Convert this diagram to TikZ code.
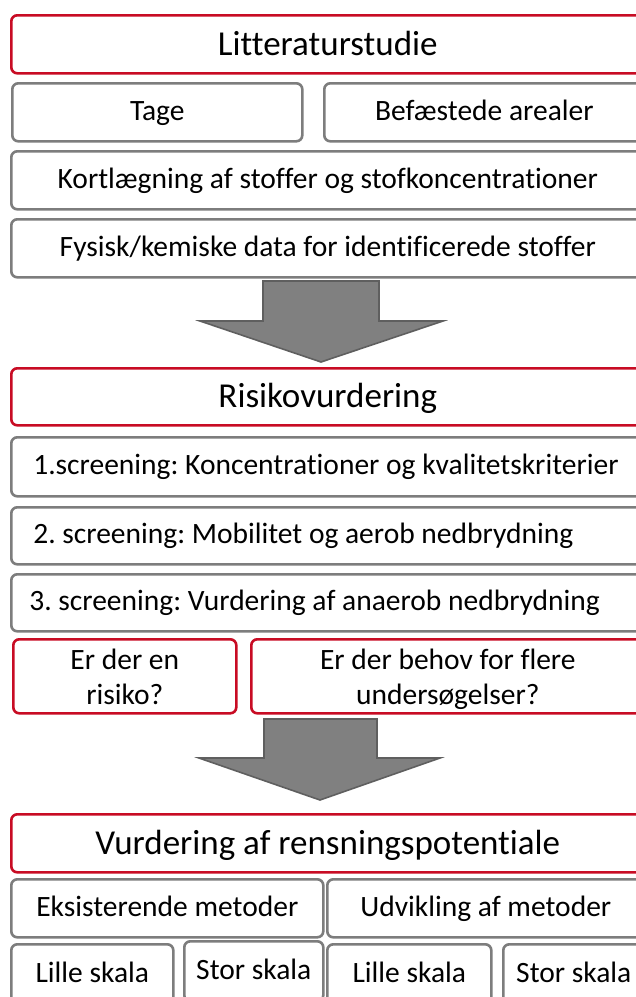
\documentclass[tikz,border=0pt]{standalone}
\usepackage{fontspec}
\setmainfont{Carlito}[Ligatures=CommonOff]
\frenchspacing
\definecolor{boxred}{RGB}{200,12,36}
\definecolor{boxgray}{RGB}{125,125,125}
\definecolor{arrowfill}{RGB}{128,128,128}
\definecolor{arrowline}{RGB}{95,95,95}
\begin{document}
\begin{tikzpicture}
[
    x=1pt, y=-1pt,
    box/.style={rectangle, rounded corners=6pt, line width=2.6pt, fill=white, anchor=north west, inner sep=2pt},
    redbox/.style={box, draw=boxred},
    graybox/.style={box, draw=boxgray},
    titletext/.style={font=\fontsize{35}{42}\selectfont, text height=24pt, text depth=2pt},
    bodytext/.style={font=\fontsize{29.5}{35}\selectfont, text height=18pt, text depth=2pt},
    asktext/.style={font=\fontsize{29.5}{35}\selectfont, align=center, text depth=0pt},
    lefttext/.style={bodytext, align=flush left, text width=589pt, inner xsep=22pt},
    blockarrow/.style={fill=arrowfill, draw=arrowline, line width=1.6pt, line join=miter},
]
\useasboundingbox (0,0) rectangle (636,997);
\clip (0,0) rectangle (636,997);
\fill[white] (0,0) rectangle (636,997);

% Litteraturstudie
\node[redbox, titletext, minimum width=633pt, minimum height=58pt] (lit) at (10,14) {Litteraturstudie};
\node[graybox, bodytext, minimum width=290pt, minimum height=58pt] (tage) at (11,82) {Tage};
\node[graybox, bodytext, minimum width=320pt, minimum height=58pt] (areal) at (323,82) {Befæstede arealer};
\node[graybox, bodytext, minimum width=633pt, minimum height=58pt] (kort) at (10,150) {Kortlægning af stoffer og stofkoncentrationer};
\node[graybox, bodytext, minimum width=633pt, minimum height=58pt] (data) at (10,218) {Fysisk/kemiske data for identificerede stoffer};

\draw[blockarrow] (263,281) -- (379,281) -- (379,321) -- (443,321) -- (321,362) -- (200,321) -- (263,321) -- cycle;

% Risikovurdering
\node[redbox, titletext, minimum width=633pt, minimum height=57pt] (risk) at (10,367) {Risikovurdering};
\node[graybox, lefttext, minimum height=59pt] (scr1) at (10,436) {1.screening: Koncentrationer og kvalitetskriterier};
\node[graybox, lefttext, minimum height=57pt] (scr2) at (10,506) {2. screening: Mobilitet og aerob nedbrydning};
\node[graybox, lefttext, minimum height=57pt, inner xsep=18pt, text width=597pt] (scr3) at (10,573) {3. screening: Vurdering af anaerob nedbrydning};
\node[redbox, asktext, minimum width=223pt, minimum height=74pt] (ask1) at (12,638) {Er der en\\risiko?};
\node[redbox, asktext, minimum width=393pt, minimum height=74pt] (ask2) at (250,638) {Er der behov for flere\\undersøgelser?};

\draw[blockarrow] (264,719) -- (377,719) -- (377,758) -- (440,758) -- (320,800) -- (199,758) -- (264,758) -- cycle;

% Vurdering af rensningspotentiale
\node[redbox, titletext, minimum width=633pt, minimum height=58pt] (rens) at (10,813) {Vurdering af rensningspotentiale};
\node[graybox, bodytext, minimum width=312pt, minimum height=58pt] (eksist) at (10,878) {Eksisterende metoder};
\node[graybox, bodytext, minimum width=317pt, minimum height=58pt] (udvik) at (326,878) {Udvikling af metoder};
\node[graybox, bodytext, minimum width=162pt, minimum height=60pt] (eksLille) at (10,943) {Lille skala};
\node[graybox, bodytext, minimum width=139pt, minimum height=60pt, yshift=3pt] (eksStor) at (183,943) {Stor skala};
\node[graybox, bodytext, minimum width=164pt, minimum height=60pt] (udvLille) at (326,943) {Lille skala};
\node[graybox, bodytext, minimum width=141pt, minimum height=60pt] (udvStor) at (502,943) {Stor skala};
\end{tikzpicture}
\end{document}
